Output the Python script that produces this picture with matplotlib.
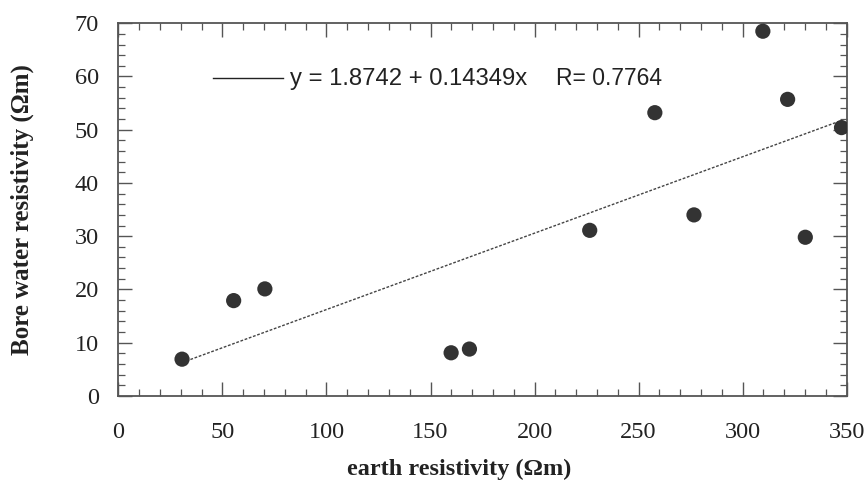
import matplotlib
matplotlib.use("Agg")
import matplotlib.pyplot as plt
from matplotlib.ticker import MultipleLocator
import numpy as np

# Earth resistivity vs. bore water resistivity (Ωm)
earth_res = [30.6, 55.4, 70.4, 159.9, 168.7, 226.5, 257.8, 276.6, 309.7, 321.6, 330.1, 347.5]
water_res = [6.9, 17.9, 20.1, 8.1, 8.8, 31.1, 53.2, 34.0, 68.5, 55.7, 29.8, 50.4]

# Linear fit reported on the chart
intercept = 1.8742
slope = 0.14349
r_value = 0.7764

x_ticks = [0, 50, 100, 150, 200, 250, 300, 350]
y_ticks = [0, 10, 20, 30, 40, 50, 60, 70]

fig = plt.figure(figsize=(8.64, 4.84), dpi=100)
ax = fig.add_axes([0.137, 0.182, 0.843, 0.770])

ink = "#333333"
ax.scatter(earth_res, water_res, s=120, color=ink, zorder=3, edgecolors="none")

fx = np.array([min(earth_res), max(earth_res)])
ax.plot(fx, intercept + slope * fx, color="#444444", lw=1.0,
        linestyle=(0, (2.0, 1.2)), zorder=2)

ax.set_xlim(0, 350)
ax.set_ylim(0, 70)
ax.set_xticks(x_ticks)
ax.set_yticks(y_ticks)
ax.xaxis.set_minor_locator(MultipleLocator(10))
ax.yaxis.set_minor_locator(MultipleLocator(2))
ax.tick_params(which="both", direction="in", top=True, right=True, color="#555555")
ax.tick_params(which="major", length=10, width=1.0)
ax.tick_params(which="minor", length=5, width=0.9)
ax.tick_params(axis="x", which="major", pad=19)
ax.tick_params(axis="y", which="major", pad=14)
for lab in ax.get_xticklabels() + ax.get_yticklabels():
    lab.set_fontfamily("Liberation Serif")
    lab.set_fontsize(17.5)
    lab.set_color("#222222")
for sp in ax.spines.values():
    sp.set_color("#555555")
    sp.set_linewidth(1.3)

ax.set_xlabel("earth resistivity (Ωm)", fontfamily="Liberation Serif",
              fontweight="bold", fontsize=17.5, color="#222222")
ax.set_ylabel("Bore water resistivity (Ωm)", fontfamily="Liberation Serif",
              fontweight="bold", fontsize=18, color="#222222")
ax.xaxis.set_label_coords(0.468, -0.168)
ax.yaxis.set_label_coords(-0.116, 0.50)

# Key for the fitted line
ax.plot([45.7, 79.0], [59.8, 59.8], color="#222222", lw=1.0)
ax.text(82.7, 59.6, f"y = {intercept} + {slope}x",
        fontfamily="Liberation Sans", fontsize=17.2, va="center", ha="left",
        color="#222222")
ax.text(210.5, 59.6, f"R= {r_value}",
        fontfamily="Liberation Sans", fontsize=16.5, va="center", ha="left",
        color="#222222")

fig.savefig("out.png", dpi=100)
